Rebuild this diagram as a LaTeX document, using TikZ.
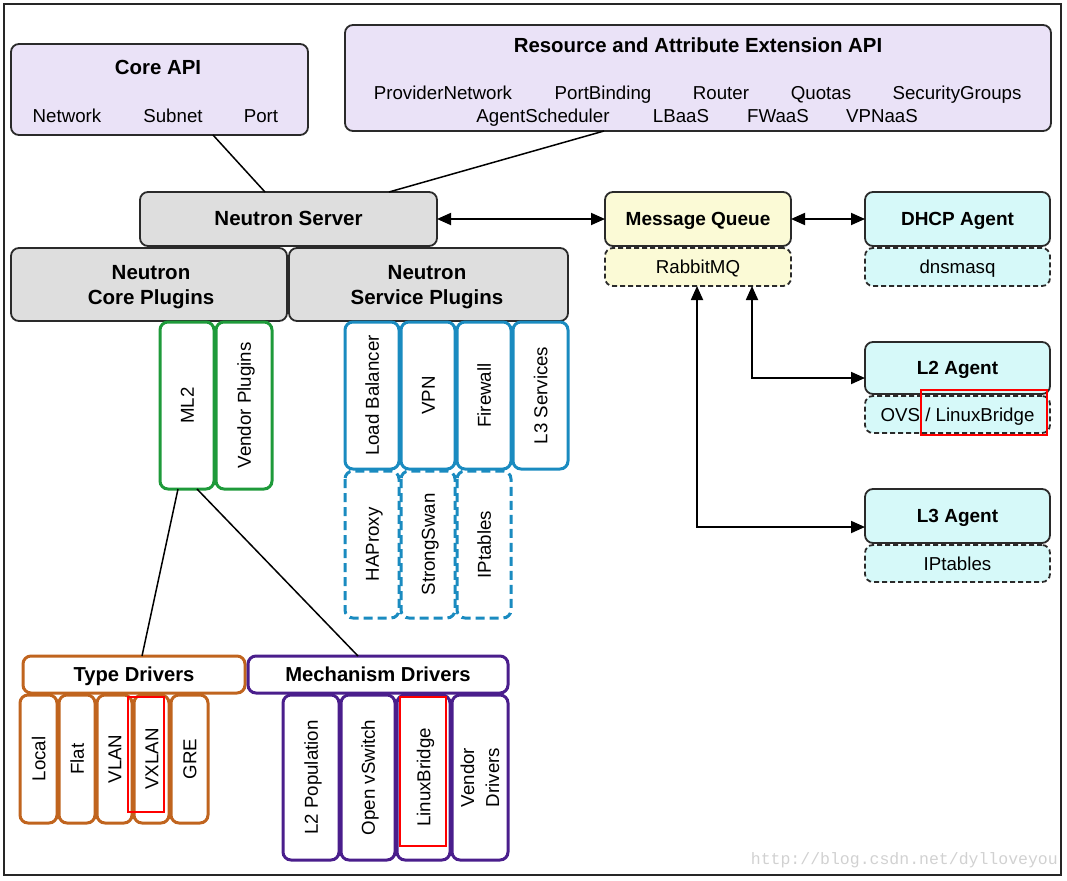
\documentclass[tikz,border=0pt]{standalone}
\usepackage{fontspec}
\setmainfont{Liberation Sans}
\setmonofont{Liberation Mono}
\usetikzlibrary{arrows.meta}
\definecolor{lav}{HTML}{EAE2F7}
\definecolor{gry}{HTML}{DEDEDE}
\definecolor{yel}{HTML}{FBFAD6}
\definecolor{cya}{HTML}{D6F9F9}
\definecolor{grn}{HTML}{1E9A3A}
\definecolor{blu}{HTML}{1A8BC0}
\definecolor{org}{HTML}{C0641E}
\definecolor{pur}{HTML}{4A1E8C}
\definecolor{edge}{HTML}{2A2A2A}
\newcommand\hb[7]{\node[#1, minimum width={#5-#3}, minimum height={#6-#4}] (#2) at ({(#3+#5)/2},{(#4+#6)/2}) {#7};}
\newcommand\vb[7]{\node[#1, rotate=90, minimum width={#6-#4}, minimum height={#5-#3}] (#2) at ({(#3+#5)/2},{(#4+#6)/2}) {#7};}
\tikzset{
  base/.style={rounded corners=8pt, inner sep=0pt, outer sep=0pt, text height=13.5pt, text depth=0pt, font=\fontsize{18.7}{25}\selectfont},
  solidbox/.style={base, draw=edge, line width=1.8pt},
  dashbox/.style={base, draw=edge, line width=1.8pt, dash pattern=on 5pt off 3pt},
  lavbox/.style={solidbox, fill=lav},
  grybox/.style={solidbox, fill=gry, font=\fontsize{20.5}{25}\selectfont\bfseries},
  yelbox/.style={solidbox, fill=yel, font=\fontsize{19}{25}\selectfont\bfseries},
  cyabox/.style={solidbox, fill=cya, font=\fontsize{19}{25}\selectfont\bfseries},
  yeldash/.style={dashbox, fill=yel},
  cyadash/.style={dashbox, fill=cya},
  colbox/.style={base, fill=white, line width=3pt, draw=#1},
  coldash/.style={base, fill=white, line width=3pt, draw=#1, dash pattern=on 9pt off 5pt},
  ml/.style={align=center, text height={}, text depth={}},
  txt/.style={inner sep=0pt, anchor=base, font=\fontsize{18.7}{22}\selectfont},
  ttl/.style={inner sep=0pt, anchor=base, font=\fontsize{20.4}{24}\selectfont\bfseries},
  mltxt/.style={inner sep=0pt, align=center, font=\fontsize{20.5}{25}\selectfont\bfseries},
  conn/.style={draw=black, line width=1.5pt},
  arr/.style={draw=black, line width=1.8pt, {Triangle[length=14pt,width=12pt]}-{Triangle[length=14pt,width=12pt]}},
  redbox/.style={draw=red, line width=2.5pt}
}
\begin{document}
\begin{tikzpicture}[x=1pt,y=-1pt]
\useasboundingbox (0,0) rectangle (1067,880);
\draw[line width=1.5pt, draw=black!85] (4,4) rectangle (1061,875);

% APIs
\hb{lavbox}{coreapi}{11}{44}{308}{135}{}
\node[ttl] (coreapit) at (158,74.5) {Core API};
\node[txt] (cnet) at (67,123) {Network};
\node[txt] (csub) at (173,123) {Subnet};
\node[txt] (cport) at (261,123) {Port};

\hb{lavbox}{resapi}{345}{25}{1051}{131}{}
\node[ttl] (resapit) at (698,52.5) {Resource and Attribute Extension API};
\node[txt] (r1) at (443,100) {ProviderNetwork};
\node[txt] (r2) at (603,100) {PortBinding};
\node[txt] (r3) at (721,100) {Router};
\node[txt] (r4) at (821,100) {Quotas};
\node[txt] (r5) at (957,100) {SecurityGroups};
\node[txt] (r6) at (543,123) {AgentScheduler};
\node[txt] (r7) at (681,123) {LBaaS};
\node[txt] (r8) at (778,123) {FWaaS};
\node[txt] (r9) at (882,123) {VPNaaS};

% Server and plugins
\hb{grybox}{server}{140}{192}{437}{246}{Neutron Server}
\hb{grybox}{coreplug}{11}{248}{287}{321}{}
\node[mltxt] (coreplugt) at (151,287) {Neutron\\Core Plugins};
\hb{grybox}{servplug}{289}{248}{568}{321}{}
\node[mltxt] (servplugt) at (427,287) {Neutron\\Service Plugins};

\draw[conn] (213,0 |- coreapi.south) -- (265,0 |- server.north);
\draw[conn] (604,0 |- resapi.south) -- (389,0 |- server.north);

% Message queue and agents
\hb{yelbox}{mq}{605}{192}{791}{246}{Message Queue}
\hb{yeldash}{rabbit}{605}{248}{791}{286}{RabbitMQ}
\hb{cyabox}{dhcp}{865}{192}{1050}{246}{DHCP Agent}
\hb{cyadash}{dnsmasq}{865}{248}{1050}{286}{dnsmasq}
\hb{cyabox}{l2}{865}{342}{1050}{394}{L2 Agent}
\hb{cyadash}{ovs}{865}{396}{1050}{433}{OVS / LinuxBridge}
\hb{cyabox}{l3}{865}{489}{1050}{543}{L3 Agent}
\hb{cyadash}{l3ipt}{865}{545}{1050}{582}{IPtables}

\draw[arr] (server.east) -- (mq.west);
\draw[arr] (mq.east) -- (dhcp.west);
\draw[arr] (752,0 |- rabbit.south) -- (752,378) -- (l2.west |- 752,378);
\draw[arr] (697,0 |- rabbit.south) -- (697,527) -- (l3.west |- 697,527);

\draw[redbox] (921,390) rectangle (1047,435);

% Core plugins
\vb{colbox=grn}{ml2}{160}{322}{214}{489}{ML2}
\vb{colbox=grn}{vendplug}{216}{322}{272}{489}{Vendor Plugins}

% Service plugins
\vb{colbox=blu}{lb}{345}{322}{399}{469}{Load Balancer}
\vb{colbox=blu}{vpn}{401}{322}{455}{469}{VPN}
\vb{colbox=blu}{fw}{457}{322}{511}{469}{Firewall}
\vb{colbox=blu}{l3s}{513}{322}{568}{469}{L3 Services}
\vb{coldash=blu}{hap}{345}{471}{399}{618}{HAProxy}
\vb{coldash=blu}{sswan}{401}{471}{455}{618}{StrongSwan}
\vb{coldash=blu}{ipt}{457}{471}{511}{618}{IPtables}

% Drivers
\hb{colbox=org, font=\fontsize{20.2}{24}\selectfont\bfseries}{typed}{23}{656}{245}{693}{Type Drivers}
\hb{colbox=pur, font=\fontsize{20.2}{24}\selectfont\bfseries}{mechd}{248}{656}{508}{693}{Mechanism Drivers}

\draw[conn] (178,0 |- ml2.west) -- (142,0 |- typed.north);
\draw[conn] (197,0 |- ml2.west) -- (358,0 |- mechd.north);

\vb{colbox=org}{local}{20}{695}{57}{823}{Local}
\vb{colbox=org}{flat}{59}{695}{95}{823}{Flat}
\vb{colbox=org}{vlan}{97}{695}{132}{823}{VLAN}
\vb{colbox=org}{vxlan}{134}{695}{169}{823}{VXLAN}
\vb{colbox=org}{gre}{171}{695}{208}{823}{GRE}

\vb{colbox=pur}{l2pop}{283}{695}{339}{860}{L2 Population}
\vb{colbox=pur}{ovsd}{341}{695}{395}{860}{Open vSwitch}
\vb{colbox=pur}{lbd}{397}{695}{450}{860}{LinuxBridge}
\vb{colbox=pur, ml}{vendd}{452}{695}{508}{860}{Vendor\\Drivers}

\draw[redbox] (128,697) rectangle (164,812);
\draw[redbox] (400,697) rectangle (446,846);

\node[anchor=east, inner sep=0pt, text=black!18, font=\ttfamily\fontsize{16.5}{18}\selectfont] (wm) at (1058,860) {http://blog.csdn.net/dylloveyou};
\end{tikzpicture}
\end{document}
